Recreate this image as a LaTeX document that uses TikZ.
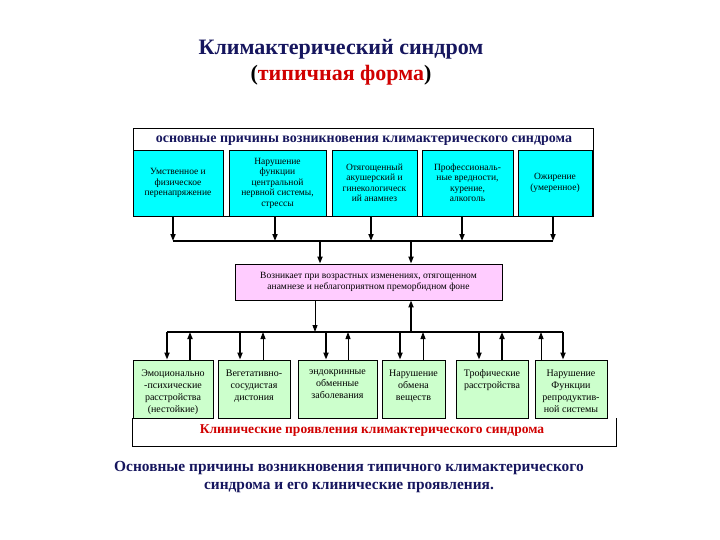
\documentclass[tikz,border=0pt]{standalone}
\usepackage{fontspec}
\setmainfont{Liberation Serif}
\usetikzlibrary{arrows.meta}
\definecolor{navy}{HTML}{16165E}
\definecolor{redt}{HTML}{D00000}
\definecolor{cyanbox}{HTML}{00FFFF}
\definecolor{pinkbox}{HTML}{FFCCFF}
\definecolor{greenbox}{HTML}{CCFFCC}
\newcommand{\gtxt}[2]{\parbox[c][38pt][t]{#1}{\centering #2}}
\begin{document}
\begin{tikzpicture}[x=1pt,y=-1pt,
  cause/.style={draw=black, line width=0.8pt, fill=cyanbox, minimum height=66pt, inner sep=0pt, align=center, font=\fontsize{9.5}{10.5}\selectfont},
  effect/.style={draw=black, line width=0.8pt, fill=greenbox, minimum height=58pt, inner sep=0pt, font=\fontsize{10}{12}\selectfont},
  hline/.style={line width=1.3pt},
  thk/.style={line width=1.6pt, -{Triangle[length=7pt,width=5pt]}},
  thn/.style={line width=0.9pt, -{Triangle[length=7pt,width=5pt]}}
]
\useasboundingbox (0,0) rectangle (720,540);

% title
\node[align=center, font=\fontsize{22}{26}\selectfont\bfseries, text=navy] (title) at (341,62)
  {Климактерический синдром\\{\color{black}(}{\color{redt}типичная форма}{\color{black})}};

% outer frame with header
\node[draw=black, line width=0.8pt, fill=white, minimum width=460pt, minimum height=88pt, inner sep=0pt] (outer) at (363,172) {};
\node[font=\fontsize{14}{16}\selectfont\bfseries, text=navy] (head) at (364,141)
  {основные причины возникновения климактерического синдрома};

% causes
\node[cause, minimum width=90pt] (c1) at (178,183) {Умственное и\\физическое\\перенапряжение};
\node[cause, minimum width=97pt] (c2) at (277.5,183) {Нарушение\\функции\\центральной\\нервной системы,\\стрессы};
\node[cause, minimum width=85pt] (c3) at (374.5,183) {Отягощенный\\акушерский и\\гинекологическ\\ий анамнез};
\node[cause, minimum width=91pt] (c4) at (467.5,183) {Профессиональ-\\ные вредности,\\курение,\\алкоголь};
\node[cause, minimum width=74pt] (c5) at (555,183) {Ожирение\\(умеренное)};

% pink box
\node[draw=black, line width=0.8pt, fill=pinkbox, minimum width=267pt, minimum height=36pt, inner sep=0pt, align=center, font=\fontsize{9.5}{11}\selectfont] (pink) at (368.5,282)
  {Возникает при возрастных изменениях, отягощенном\\анамнезе и неблагоприятном преморбидном фоне};

% effects
\node[effect, minimum width=80pt] (g1) at (173,389) {\gtxt{76pt}{Эмоционально\\-психические\\расстройства\\(нестойкие)}};
\node[effect, minimum width=72pt] (g2) at (254,389) {\gtxt{68pt}{Вегетативно-\\сосудистая\\дистония}};
\node[effect, minimum width=79pt] (g3) at (337.5,389) {\gtxt{75pt}{эндокринные\\обменные\\заболевания}};
\node[effect, minimum width=63pt] (g4) at (413.5,389) {\gtxt{60pt}{Нарушение\\обмена\\веществ}};
\node[effect, minimum width=72pt] (g5) at (492,389) {\gtxt{68pt}{Трофические\\расстройства}};
\node[effect, minimum width=72pt] (g6) at (571,389) {\gtxt{70pt}{Нарушение\\Функции\\репродуктив-\\ной системы}};

% helper levels
\coordinate (hl1) at (0,241);
\coordinate (hl2) at (0,332);

% causes -> line
\foreach \n/\s in {1/-5,2/-2.5,3/-3.5,4/-5.5,5/-2}{
  \coordinate (t\n) at ([xshift=\s pt]c\n.south);
  \draw[thk] (t\n) -- (t\n |- hl1);
}
\draw[hline] (t1 |- hl1) -- (t5 |- hl1);

% line -> pink
\coordinate (p1) at ([xshift=-48.5pt]pink.north);
\coordinate (p2) at ([xshift=42.5pt]pink.north);
\draw[thk] (p1 |- hl1) -- (p1);
\draw[thk] (p2 |- hl1) -- (p2);

% pink <-> lower line
\coordinate (p3) at ([xshift=-53.5pt]pink.south);
\coordinate (p4) at ([xshift=42.5pt]pink.south);
\draw[thn] (p3) -- (p3 |- hl2);
\draw[thk] (p4 |- hl2) -- (p4);

% effects
\foreach \n/\d/\u/\dw/\uw in {1/-6/17/thk/thk, 2/-14/9/thk/thn, 3/-11.5/10.5/thk/thn, 4/-13.5/9.5/thk/thn, 5/-13/10/thk/thk, 6/-8/-30/thk/thn}{
  \coordinate (d\n) at ([xshift=\d pt]g\n.north);
  \coordinate (u\n) at ([xshift=\u pt]g\n.north);
  \draw[\dw] (d\n |- hl2) -- (d\n);
  \draw[\uw] (u\n) -- (u\n |- hl2);
}
\draw[hline] (d1 |- hl2) -- (d6 |- hl2);

% bracket
\coordinate (bl) at (133,446);
\coordinate (br) at (616,446);
\draw[line width=0.8pt] (g1.south west) -- (g1.south west |- bl) -- (br) -- (br |- g6.south);

\node[font=\fontsize{13.5}{15}\selectfont\bfseries, text=redt] (clin) at (372,431)
  {Клинические проявления климактерического синдрома};

% caption
\node[align=center, font=\fontsize{15.4}{18}\selectfont\bfseries, text=navy] (cap) at (349,477)
  {Основные причины возникновения типичного климактерического\\синдрома и его клинические проявления.};
\end{tikzpicture}
\end{document}
